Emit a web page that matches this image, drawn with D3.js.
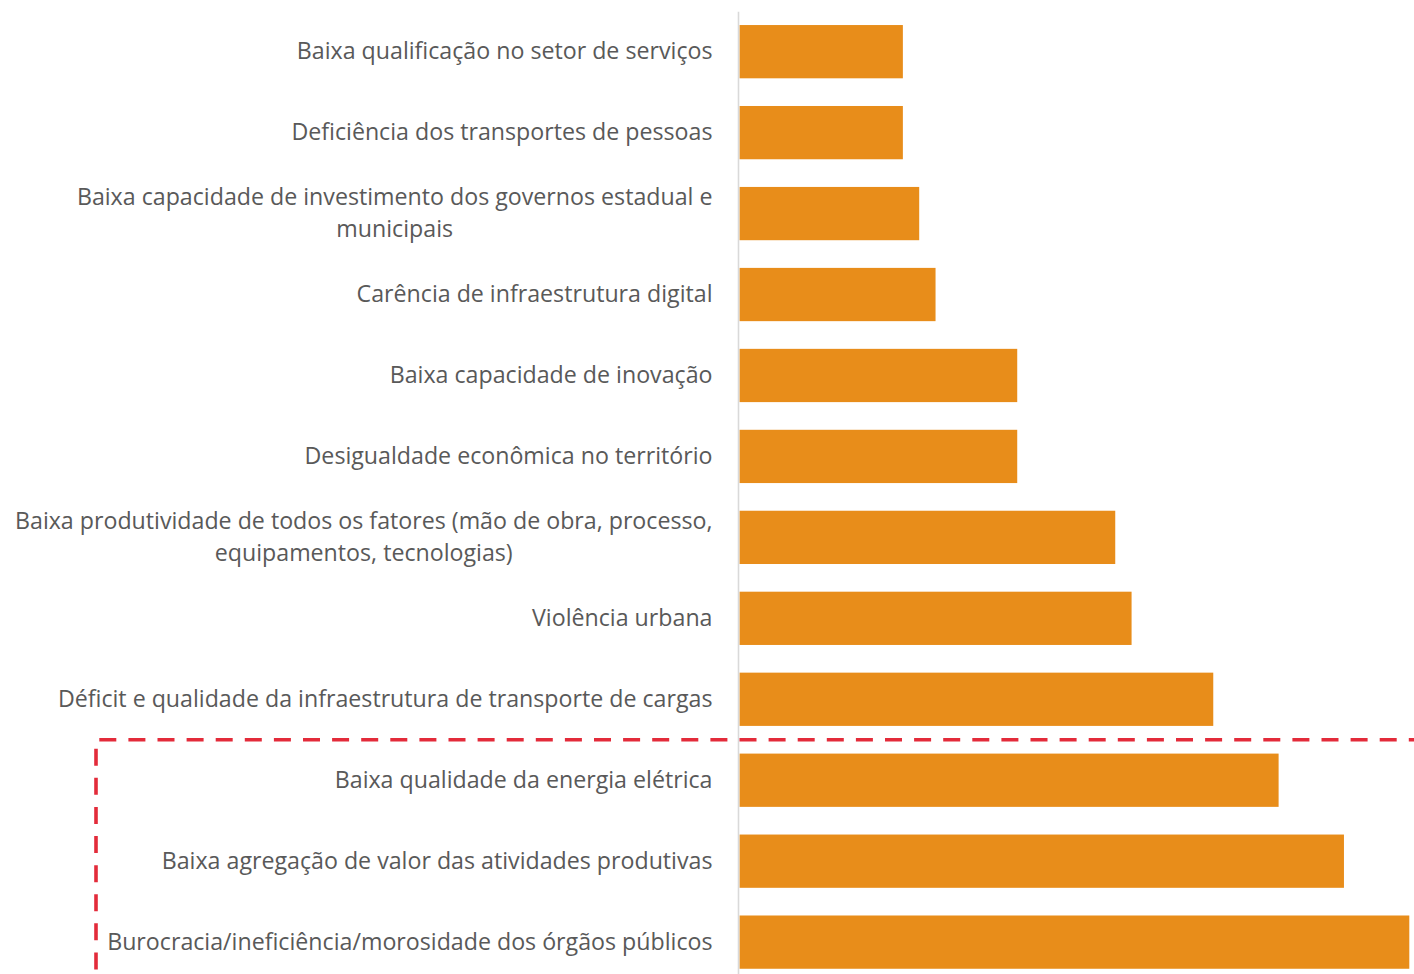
<!DOCTYPE html>
<html>
<head>
<meta charset="utf-8">
<script src="https://cdn.jsdelivr.net/npm/d3@7"></script>
<style>
  html, body { margin: 0; padding: 0; background: #ffffff; }
  svg { display: block; }
</style>
</head>
<body>
<svg id="chart" width="1414" height="974"></svg>
<script>
// Problems cited, top to bottom ("\n" marks a line break in the label)
const categories = [
  "Baixa qualificação no setor de serviços",
  "Deficiência dos transportes de pessoas",
  "Baixa capacidade de investimento dos governos estadual e\nmunicipais",
  "Carência de infraestrutura digital",
  "Baixa capacidade de inovação",
  "Desigualdade econômica no território",
  "Baixa produtividade de todos os fatores (mão de obra, processo,\nequipamentos, tecnologias)",
  "Violência urbana",
  "Déficit e qualidade da infraestrutura de transporte de cargas",
  "Baixa qualidade da energia elétrica",
  "Baixa agregação de valor das atividades produtivas",
  "Burocracia/ineficiência/morosidade dos órgãos públicos"
];
const values = [10, 10, 11, 12, 17, 17, 23, 24, 29, 33, 37, 41];
const xDomainMax = 41;
// First category inside the highlighted group
const highlightFrom = "Baixa qualidade da energia elétrica";

const svg = d3.select("#chart");
const W = 1414, H = 974;

const x = d3.scaleLinear().domain([0, xDomainMax]).range([739.5, 1409.3]);
const y = d3.scaleBand()
  .domain(categories)
  .range([11.2, 11.2 + 80.95 * categories.length])
  .paddingInner(0.342)
  .paddingOuter(0.171);

// Bars
svg.append("g")
  .selectAll("rect")
  .data(categories)
  .join("rect")
  .attr("x", x(0))
  .attr("y", d => y(d))
  .attr("width", (d, i) => x(values[i]) - x(0))
  .attr("height", y.bandwidth())
  .attr("fill", "#E88D1A");

// Category axis (line only, labels drawn separately for wrapping)
const axis = svg.append("g")
  .attr("transform", `translate(${x(0) - 1},0)`)
  .call(d3.axisLeft(y).tickSize(0).tickFormat(""));
axis.select(".domain")
  .attr("d", `M0,11.7V${H + 10}`)
  .attr("stroke", "#d9d9d9")
  .attr("stroke-width", 1.6);

// Labels: right edge aligned, multi-line labels centred on each other
const labelRight = 712.5;
const lineGap = 32.5;
const labelShift = -1.5;
const labels = svg.append("g")
  .attr("font-family", "'Open Sans', sans-serif")
  .attr("font-size", 23.2)
  .attr("fill", "#595959");

categories.forEach(c => {
  const lines = c.split("\n");
  const cy = y(c) + y.bandwidth() / 2 + labelShift;
  const t = labels.append("text").attr("dominant-baseline", "central");
  if (lines.length === 1) {
    t.attr("x", labelRight).attr("y", cy).attr("text-anchor", "end").text(lines[0]);
  } else {
    // measure the widest line to find the block centre
    const probe = labels.append("text").text(lines[0]);
    const wmax = d3.max(lines, l => { probe.text(l); return probe.node().getComputedTextLength(); });
    probe.remove();
    const cx = labelRight - wmax / 2;
    t.attr("text-anchor", "middle");
    lines.forEach((l, k) => {
      t.append("tspan")
        .attr("x", cx)
        .attr("y", cy + (k - (lines.length - 1) / 2) * lineGap)
        .text(l);
    });
  }
});

// Dashed highlight around the top-ranked group
const yTop = y(highlightFrom) - y.step() * y.paddingInner() / 2;
const dash = svg.append("g")
  .attr("stroke", "#E32B3A")
  .attr("stroke-width", 3.6)
  .attr("stroke-dasharray", "17,12.1")
  .attr("fill", "none");
dash.append("line")
  .attr("x1", 99.3).attr("x2", W + 20)
  .attr("y1", yTop).attr("y2", yTop);
dash.append("line")
  .attr("x1", 96).attr("x2", 96)
  .attr("y1", yTop + 9).attr("y2", H + 20);
</script>
</body>
</html>
